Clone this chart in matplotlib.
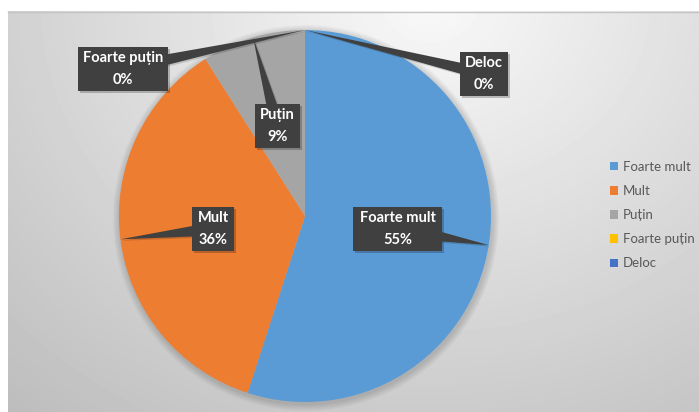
import matplotlib.pyplot as plt
import numpy as np
from matplotlib.patches import Rectangle, Polygon, Circle

# data
categories = ['Foarte mult', 'Mult', 'Puțin', 'Foarte puțin', 'Deloc']
percent = [55, 36, 9, 0, 0]
colors = ['#5B9BD5', '#ED7D31', '#A5A5A5', '#FFC000', '#4472C4']

# callout boxes (left, top, width, height) in pixels from the top-left corner
box_px = [(353, 207, 89, 44), (192, 207, 42, 44), (255, 104, 45, 44),
          (78, 47, 90, 44), (460, 52, 48, 44)]

FONT = ['Lato', 'DejaVu Sans']
W, H = 699, 412

fig = plt.figure(figsize=(W / 100, H / 100), dpi=100)
ax = fig.add_axes([0, 0, 1, 1])

# chart area background: soft radial gradient, lightest at the top
yy, xx = np.mgrid[11:H, 8:W]
d = np.sqrt((xx - 430.0) ** 2 + ((yy - 0.0) / 0.85) ** 2)
shade = 0.975 - 0.22 * d / 600
ax.imshow(shade, cmap='gray', vmin=0, vmax=1, extent=(8, W, 0, H - 11),
          origin='upper', aspect='auto', zorder=0, interpolation='bilinear')
ax.plot([8, W], [H - 11.5, H - 11.5], color='#c4c4c4', lw=1, zorder=1)

# pie
cx, cy, r = 305, H - 216, 186
for k in range(1, 9):
    ax.add_patch(Circle((cx + 1, cy - 2), r + k * 0.9, color='k', alpha=0.018,
                        lw=0, zorder=2))
wedges, _ = ax.pie(percent, colors=colors, startangle=90, counterclock=False,
                   center=(cx, cy), radius=r, frame=True,
                   wedgeprops=dict(linewidth=0, zorder=3))

# callout labels pointing at the middle of each slice's outer edge
total = float(sum(percent))
cum = np.cumsum(percent)
for i, (cat, p) in enumerate(zip(categories, percent)):
    ang = np.radians(360 * (cum[i] - p / 2) / total)
    tip = np.array([cx + r * np.sin(ang), cy + r * np.cos(ang)])
    left, top, bw, bh = box_px[i]
    c = np.array([left + bw / 2, H - top - bh / 2])
    dv = tip - c
    s = min((bw / 2) / max(abs(dv[0]), 1e-9), (bh / 2) / max(abs(dv[1]), 1e-9))
    base = c + s * 0.8 * dv
    n = np.array([-dv[1], dv[0]]) / np.hypot(*dv) * 5.5
    shadow_off = np.array([1.5, -1.5])
    ax.add_patch(Rectangle((left + 2, H - top - bh - 2), bw, bh, color='k',
                           alpha=0.22, lw=0, zorder=4))
    ax.add_patch(Polygon([base + n + shadow_off, tip + shadow_off, base - n + shadow_off],
                         closed=True, color='k', alpha=0.15, lw=0, zorder=4))
    ax.add_patch(Polygon([base + n, tip, base - n], closed=True,
                         color='#404040', lw=0, zorder=5))
    ax.add_patch(Rectangle((left, H - top - bh), bw, bh, color='#404040',
                           lw=0, zorder=5))
    ax.text(c[0], c[1], f"{cat}\n{p}%", ha='center', va='center', color='white',
            fontsize=10.5, fontweight='bold', family=FONT, linespacing=1.65,
            zorder=6)

leg = ax.legend(wedges, categories, loc='upper left',
                bbox_to_anchor=(598 / W, 1 - 149 / H), frameon=False,
                prop={'family': FONT, 'size': 9.5}, handlelength=0.6,
                handleheight=0.6, handletextpad=0.4, labelspacing=0.92,
                labelcolor='#595959')

ax.set_xlim(0, W)
ax.set_ylim(0, H)
ax.axis('off')
fig.savefig('out.png', dpi=100, facecolor='white')
